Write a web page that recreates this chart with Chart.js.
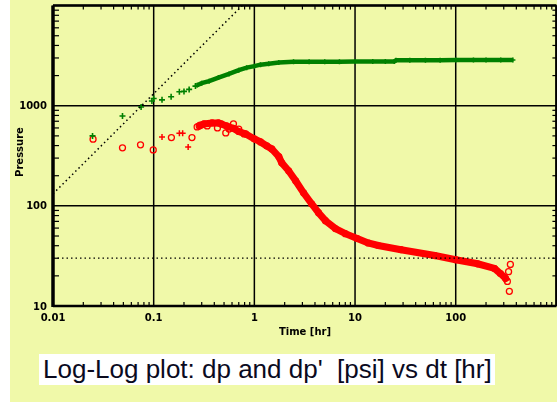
<!DOCTYPE html>
<html>
<head>
<meta charset="utf-8">
<script src="https://cdn.jsdelivr.net/npm/chart.js"></script>
<style>
    html, body { margin: 0; padding: 0; overflow: hidden; }
    body { width: 557px; height: 402px; background: #f0f9a9; position: relative; }
    #strip { position: absolute; left: 0; top: 0; width: 10px; height: 402px; background: #fff; }
    #chart { position: absolute; left: 0; top: 0; }
    #caption {
        position: absolute; left: 39px; top: 354px; width: 452px; height: 31px; padding-left: 4px;
        background: #fff; color: #0a0a1e; white-space: pre;
        font: 26px "Liberation Sans", Arial, sans-serif; line-height: 31px;
    }
</style>
</head>
<body>
<div id="strip"></div>
<canvas id="chart" width="562" height="402"></canvas>
<div id="caption">Log-Log plot: dp and dp'  [psi] vs dt [hr]</div>
<script>
// dp, early sparse points
var dpEarlyT = [0.0247, 0.049, 0.075, 0.096, 0.1, 0.121, 0.149, 0.18, 0.2, 0.225, 0.26];
var dpEarlyP = [500, 790, 970, 1114, 1180, 1145, 1231, 1377, 1390, 1456, 1570];

// dp, dense part
var dpT = [0.27, 0.3, 0.355, 0.44, 0.56, 0.7, 0.84, 1.0, 1.15, 1.39, 1.75, 2.45, 3.5, 5, 7, 10, 15, 20, 24.5, 25.5, 35, 50, 70, 100, 150, 200, 280, 370];
var dpP = [1600, 1680, 1760, 1910, 2080, 2265, 2400, 2484, 2570, 2630, 2705, 2745, 2750, 2752, 2755, 2758, 2760, 2762, 2765, 2845, 2848, 2850, 2852, 2855, 2857, 2860, 2862, 2865];

// dp' (derivative), dense part
var derT = [0.27, 0.283, 0.316, 0.38, 0.44, 0.53, 0.62, 0.70, 0.82, 1.0, 1.15, 1.33, 1.49, 1.75, 1.87, 2.19, 2.57, 3.08, 3.70, 4.34, 5.08, 6.38, 8.01, 10.5, 13.5, 17.0, 28.6, 62.1, 100, 165, 243, 278, 312, 326];
var derP = [614, 628, 658, 673, 673, 628, 593, 553, 523, 466, 435, 397, 370, 310, 269, 224, 178, 135, 105, 85.5, 71.2, 59.3, 52.8, 47.2, 42.6, 40.2, 36.5, 31.9, 29.0, 26.4, 23.7, 21.1, 18.9, 17.6];

// dp', loose circles
var derDotT = [0.025, 0.049, 0.074, 0.099, 0.15, 0.24, 0.29, 0.34, 0.43, 0.47, 0.52, 0.56, 0.62, 0.70, 0.79, 335, 341, 349];
var derDotP = [463, 380, 407, 362, 481, 481, 640, 628, 600, 658, 535, 585, 658, 585, 523, 22, 14, 26];

// dp', crosses
var derCrossT = [0.121, 0.18, 0.194, 0.22];
var derCrossP = [488, 531, 531, 388];

// unit slope line and stabilisation line
var unitT = [0.01, 0.758];
var unitP = [132, 10000];
var stabT = [0.01, 1000];
var stabP = [30, 30];

// axis labels
var xTickValues = [0.01, 0.1, 1, 10, 100];
var xTickLabels = ['0.01', '0.1', '1', '10', '100'];
var yTickValues = [10, 100, 1000];
var yTickLabels = ['10', '100', '1000'];
var xDecades = [0.01, 0.1, 1, 10, 100, 1000];
var yDecades = [10, 100, 1000, 10000];

function pts(ts, ps) {
    return ts.map(function (t, i) { return { x: t, y: ps[i] }; });
}

function seg(ctx, x1, y1, x2, y2) {
    ctx.beginPath();
    ctx.moveTo(x1, y1);
    ctx.lineTo(x2, y2);
    ctx.stroke();
}

var frame = {
    id: 'frame',
    beforeDatasetsDraw: function (chart) {
        var ctx = chart.ctx, a = chart.chartArea;
        var xs = chart.scales.x, ys = chart.scales.y;
        ctx.save();
        ctx.strokeStyle = '#000';

        // decade grid
        ctx.lineWidth = 1.5;
        xDecades.forEach(function (v) {
            var px = xs.getPixelForValue(v);
            seg(ctx, px, a.top, px, a.bottom);
        });
        yDecades.forEach(function (v) {
            var py = ys.getPixelForValue(v);
            seg(ctx, a.left, py, a.right, py);
        });

        // minor ticks, inward
        ctx.lineWidth = 1.2;
        xDecades.slice(0, 5).forEach(function (d) {
            for (var k = 2; k < 10; k++) {
                var px = xs.getPixelForValue(d * k);
                seg(ctx, px, a.bottom, px, a.bottom - 4);
                seg(ctx, px, a.top, px, a.top + 4);
            }
        });
        yDecades.slice(0, 3).forEach(function (d) {
            for (var k = 2; k < 10; k++) {
                var py = ys.getPixelForValue(d * k);
                seg(ctx, a.left, py, a.left + 6, py);
                seg(ctx, a.right, py, a.right - 4, py);
            }
        });

        // frame
        ctx.lineWidth = 2.5;
        seg(ctx, a.left, a.bottom, a.right, a.bottom);
        seg(ctx, a.left, a.top, a.right, a.top);
        seg(ctx, a.right, a.top, a.right, a.bottom);
        ctx.lineWidth = 3.5;
        seg(ctx, a.left, a.top, a.left, a.bottom + 1);
        ctx.restore();
    },
    afterDatasetsDraw: function (chart) {
        var ctx = chart.ctx, a = chart.chartArea;
        var xs = chart.scales.x, ys = chart.scales.y;
        ctx.save();
        ctx.fillStyle = '#000';
        ctx.font = 'bold 10px "DejaVu Sans"';
        ctx.textBaseline = 'middle';
        ctx.textAlign = 'right';
        yTickValues.forEach(function (v, i) {
            ctx.fillText(yTickLabels[i], a.left - 6, ys.getPixelForValue(v) + 1);
        });
        ctx.textAlign = 'center';
        xTickValues.forEach(function (v, i) {
            ctx.fillText(xTickLabels[i], xs.getPixelForValue(v), a.bottom + 12);
        });
        ctx.fillText('Time [hr]', 305, a.bottom + 26);
        ctx.translate(20, 152);
        ctx.rotate(-Math.PI / 2);
        ctx.fillText('Pressure', 0, 0);
        ctx.restore();
    }
};

var red = '#ff0000';
var green = '#008000';

new Chart(document.getElementById('chart').getContext('2d'), {
    type: 'scatter',
    data: {
        datasets: [{
            data: pts(stabT, stabP),
            showLine: true, borderColor: '#000', borderWidth: 1.3, borderDash: [1.5, 3],
            pointRadius: 0
        }, {
            data: pts(unitT, unitP),
            showLine: true, borderColor: '#000', borderWidth: 1.5, borderDash: [1.5, 3],
            pointRadius: 0
        }, {
            data: pts(dpEarlyT, dpEarlyP),
            pointStyle: 'cross', pointRadius: 3, pointBorderWidth: 1.6,
            pointBorderColor: green, pointBackgroundColor: green
        }, {
            data: pts(dpT, dpP),
            showLine: true, borderColor: green, borderWidth: 4.5,
            pointStyle: 'cross', pointRadius: 2.5, pointBorderWidth: 1.5,
            pointBorderColor: green, pointBackgroundColor: green
        }, {
            data: pts(derT, derP),
            showLine: true, borderColor: red, borderWidth: 7,
            pointStyle: 'circle', pointRadius: 3, pointBorderWidth: 1.2,
            pointBorderColor: red, pointBackgroundColor: 'rgba(0,0,0,0)'
        }, {
            data: pts(derDotT, derDotP),
            pointStyle: 'circle', pointRadius: 3, pointBorderWidth: 1.3,
            pointBorderColor: red, pointBackgroundColor: 'rgba(0,0,0,0)'
        }, {
            data: pts(derCrossT, derCrossP),
            pointStyle: 'cross', pointRadius: 3, pointBorderWidth: 1.5,
            pointBorderColor: red, pointBackgroundColor: red
        }]
    },
    options: {
        responsive: false,
        animation: false,
        layout: { padding: { top: 3, right: 3, left: 0, bottom: 0 } },
        plugins: { legend: { display: false }, tooltip: { enabled: false } },
        scales: {
            x: {
                type: 'logarithmic', min: 0.01, max: 1000,
                ticks: { display: false }, grid: { display: false }, border: { display: false },
                afterFit: function (s) { s.height = 96; }
            },
            y: {
                type: 'logarithmic', min: 10, max: 10000,
                ticks: { display: false }, grid: { display: false }, border: { display: false },
                afterFit: function (s) { s.width = 53; }
            }
        }
    },
    plugins: [frame]
});
</script>
</body>
</html>
